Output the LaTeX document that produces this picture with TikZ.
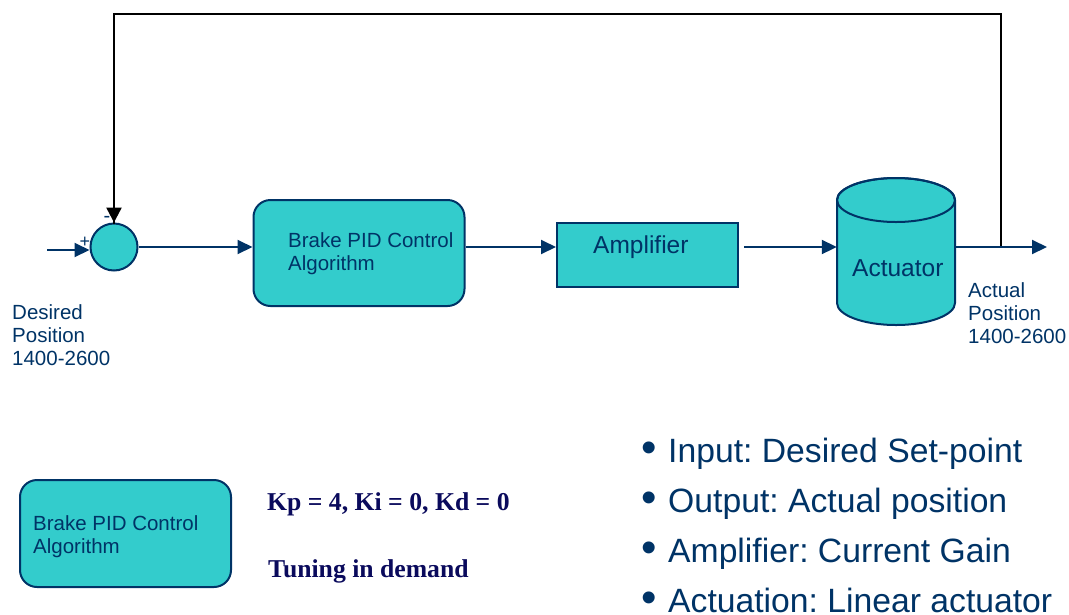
\documentclass[tikz,border=0pt]{standalone}
\usepackage{fontspec}
\setmainfont{Liberation Sans}
\newfontfamily\timesb{Liberation Serif}
\usetikzlibrary{arrows.meta}
\definecolor{navy}{HTML}{003366}
\definecolor{tealfill}{HTML}{33CCCC}
\definecolor{kcol}{HTML}{0A0A5C}
\tikzset{
  blk/.style={draw=navy, line width=2pt, fill=tealfill, inner sep=0pt},
  rblk/.style={blk, rounded corners=17pt},
  flow/.style={draw=navy, line width=2pt, -{Triangle[length=15pt,width=14pt]}},
  fback/.style={draw=black, line width=2.5pt},
  lbl/.style={text=navy, anchor=base west, inner sep=0pt, font=\fontsize{20.5}{23}\selectfont, align=left},
  big/.style={text=navy, anchor=base west, inner sep=0pt, font=\fontsize{24.5}{28}\selectfont},
  kp/.style={text=kcol, anchor=base west, inner sep=0pt, font=\timesb\bfseries\fontsize{25.7}{30}\selectfont},
  bul/.style={text=navy, anchor=base west, inner sep=0pt, font=\fontsize{33.7}{40}\selectfont},
}
\newcommand{\bulmark}{\makebox[26.5pt][l]{{\fontsize{44}{44}\selectfont •}}}
\begin{document}
\frenchspacing
\begin{tikzpicture}[x=1pt,y=-1pt]
\useasboundingbox (0,0) rectangle (1069,614);
% blocks
\node[blk, circle, minimum size=47pt] (sum) at (114,247) {};
\node[rblk, minimum width=211pt, minimum height=106pt] (pid) at (359,253) {};
\node[lbl] (pidtxt) at (288,270) {Brake PID Control\\Algorithm};
\node[blk, minimum width=181pt, minimum height=64pt] (amp) at (647.5,255) {};
\node[big] (amptxt) at (593,253) {Amplifier};
% actuator cylinder
\node[minimum width=118pt, minimum height=147pt, inner sep=0pt] (act) at (896,251.5) {};
\path[blk] (837,200) -- (837,303) arc[start angle=180, end angle=0, x radius=59, y radius=22]
  -- (955,200) arc[start angle=0, end angle=-180, x radius=59, y radius=22] -- cycle;
\draw[navy, line width=2pt] (896,200) ellipse [x radius=59, y radius=22];
\node[big] (acttxt) at (852,276) {Actuator};
% coordinates
\coordinate (in) at (47,250);
\coordinate (tap) at (1001,247);
\coordinate (out) at (1047,247);
\coordinate (tr) at (1001,14);
\coordinate (tl) at (114,14);
% connectors
\draw[fback] (tap) -- (tr) -- (tl) -- ([yshift=-1pt]sum.north);
\draw[fback, -{Triangle[length=15pt,width=15pt]}] (114,200) -- (sum.north);
\draw[flow] (in) -- (sum.west |- in);
\draw[flow] (sum.east) -- (pid.west |- sum.east);
\draw[flow] (pid.east |- sum.east) -- (amp.west |- sum.east);
\draw[flow] ([xshift=5pt]amp.east |- sum.east) -- (act.west |- sum.east);
\draw[flow] (act.east |- sum.east) -- (out);
% signs
\node[text=navy, font=\fontsize{18}{18}\selectfont, inner sep=0pt] (plus) at (85,242) {+};
\node[text=navy, font=\fontsize{20}{20}\selectfont, inner sep=0pt] (minus) at (107,219) {-};
% labels
\node[lbl] (des) at (12,365) {Desired\\Position\\1400-2600};
\node[lbl] (actl) at (968,343) {Actual\\Position\\1400-2600};
% bottom
\node[rblk, minimum width=211pt, minimum height=107pt] (pid2) at (125.5,533.5) {};
\node[lbl] (pid2txt) at (33,553) {Brake PID Control\\Algorithm};
\node[kp] (kpt) at (267,510) {Kp = 4, Ki = 0, Kd = 0};
\node[kp] (tun) at (268,577) {Tuning in demand};
% bullets
\node[bul] (b1) at (641.5,462) {\bulmark Input: Desired Set-point};
\node[bul] (b2) at (641.5,512) {\bulmark Output: Actual position};
\node[bul] (b3) at (641.5,562) {\bulmark Amplifier: Current Gain};
\node[bul] (b4) at (641.5,612) {\bulmark Actuation: Linear actuator};
\end{tikzpicture}
\end{document}
